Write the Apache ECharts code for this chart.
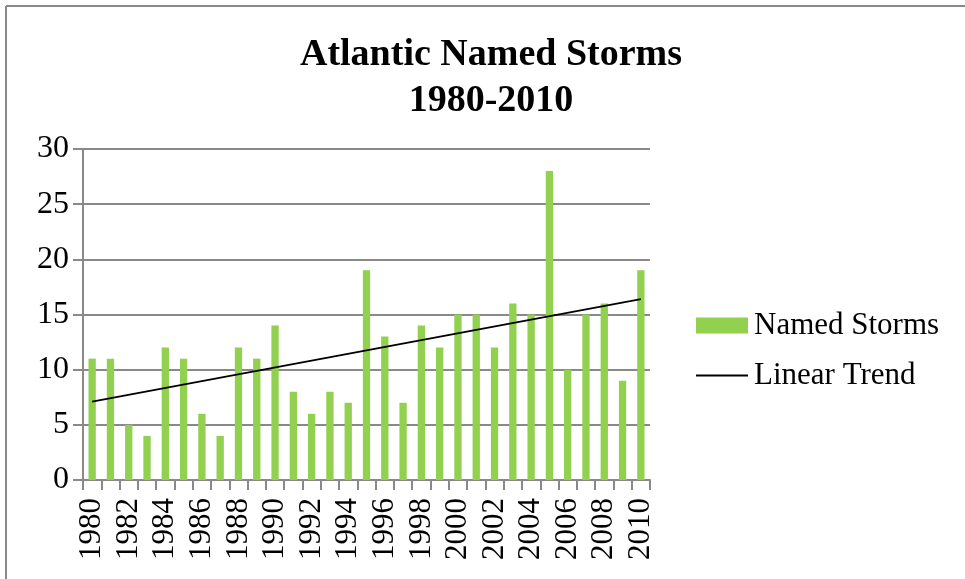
<!DOCTYPE html>
<html>
<head>
<meta charset="utf-8">
<script src="https://cdn.jsdelivr.net/npm/echarts@6/dist/echarts.min.js"></script>
<style>
html,body{margin:0;padding:0;background:#fff;}
#main{width:965px;height:579px;}
</style>
</head>
<body>
<div id="main"></div>
<script>
//年份
var years = ['1980','1981','1982','1983','1984','1985','1986','1987','1988','1989',
             '1990','1991','1992','1993','1994','1995','1996','1997','1998','1999',
             '2000','2001','2002','2003','2004','2005','2006','2007','2008','2009','2010'];
//风暴数量
var storms = [11,11,5,4,12,11,6,4,12,11,
              14,8,6,8,7,19,13,7,14,12,
              15,15,12,16,15,28,10,15,16,9,19];
//趋势线两端
var trendYears = ['1980','2010'];
var trendValues = [7.1,16.4];
var yTicks = [0,5,10,15,20,25,30];

var myChart = echarts.init(document.getElementById('main'));
var option = {
  animation:false,
  title:{
    text:'Atlantic Named Storms\n1980-2010',
    left:486,
    top:27,
    textAlign:'center',
    textStyle:{
      fontFamily:'Liberation Serif',
      fontWeight:'bold',
      fontSize:38,
      lineHeight:46,
      color:'#000'
    }
  },
  graphic:[
    {type:'line',shape:{x1:6,y1:6,x2:965,y2:6},style:{stroke:'#898989',lineWidth:2}},
    {type:'line',shape:{x1:6,y1:6,x2:6,y2:579},style:{stroke:'#898989',lineWidth:2}}
  ],
  legend:{
    left:691,
    top:305,
    orient:'vertical',
    itemGap:19,
    itemWidth:52,
    itemHeight:16,
    textStyle:{fontFamily:'Liberation Serif',fontSize:31,color:'#000',padding:[0,0,0,1]},
    data:[
      {name:'Named Storms',icon:'rect'},
      {name:'Linear Trend',icon:'path://M0,0L52,0L52,2L0,2Z',itemStyle:{color:'#000'}}
    ]
  },
  grid:{
    left:83,
    right:315,
    top:149,
    bottom:99
  },
  xAxis:{
    type:'category',
    data:years,
    boundaryGap:true,
    axisLine:{lineStyle:{color:'#898989',width:2}},
    axisTick:{show:true,interval:0,length:10,lineStyle:{color:'#898989',width:2}},
    axisLabel:{
      interval:1,
      rotate:90,
      margin:18,
      fontFamily:'Liberation Serif',
      fontSize:31,
      color:'#000'
    }
  },
  yAxis:{
    type:'value',
    min:yTicks[0],
    max:yTicks[yTicks.length-1],
    interval:5,
    axisLine:{show:true,lineStyle:{color:'#898989',width:2}},
    axisTick:{show:true,length:10,lineStyle:{color:'#898989',width:2}},
    splitLine:{lineStyle:{color:'#898989',width:2}},
    axisLabel:{
      margin:14,
      fontFamily:'Liberation Serif',
      fontSize:32,
      color:'#000'
    }
  },
  series:[
    {
      name:'Named Storms',
      type:'bar',
      data:storms,
      barWidth:'40%',
      itemStyle:{color:'#92D050'}
    },
    {
      name:'Linear Trend',
      type:'line',
      data:[[trendYears[0],trendValues[0]],[trendYears[1],trendValues[1]]],
      symbol:'none',
      lineStyle:{color:'#000',width:1.8},
      itemStyle:{color:'#000'}
    }
  ]
};
myChart.setOption(option);
</script>
</body>
</html>
